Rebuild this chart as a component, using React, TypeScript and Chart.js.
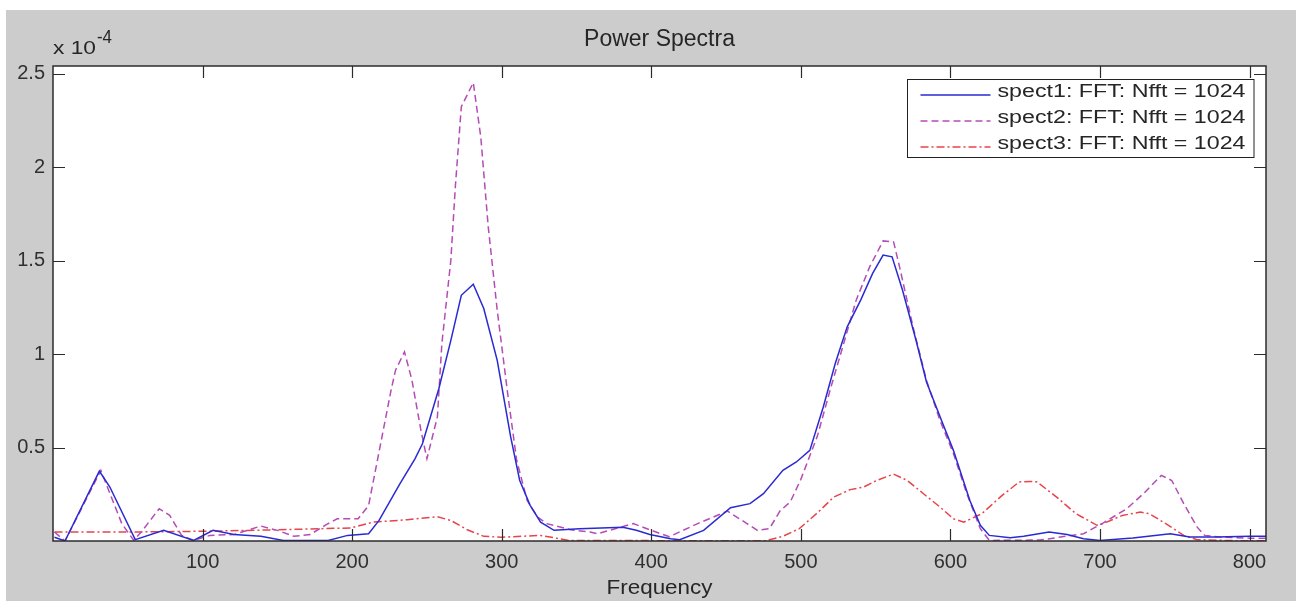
import React, { useEffect, useRef } from "react";
import { Chart, registerables } from "chart.js";

Chart.register(...registerables);

const FONT = '"Liberation Sans", Arial, Helvetica, sans-serif';

// ---- text ----
const titleText = "Power Spectra";
const xLabel = "Frequency";
const yScaleBase = "x 10";
const yScaleExp = "-4";
const seriesLabels = [
  "spect1: FFT: Nfft = 1024",
  "spect2: FFT: Nfft = 1024",
  "spect3: FFT: Nfft = 1024",
];

// ---- axes ----
const xTicks = [100, 200, 300, 400, 500, 600, 700, 800];
const yTicks = [0.5, 1, 1.5, 2, 2.5]; // in units of 1e-4
const xMin = 0;
const xMax = 811;
const yMin = 0;
const yMax = 2.542;

// ---- data (power in units of 1e-4) ----
const spect1Freq = [
  1, 8, 31, 38, 55, 74, 94, 107, 121, 139, 154, 184, 197, 211, 218, 232, 242, 247, 258, 266,
  273, 281, 288, 297, 306, 312, 319, 326, 335, 352, 381, 390, 399, 413, 419, 435, 453, 466,
  475, 488, 497, 506, 515, 523, 531, 540, 548, 555, 561, 568, 577, 584, 594, 602, 613, 620,
  626, 640, 649, 666, 678, 689, 700, 722, 747, 760, 778, 800, 811,
];
const spect1Power = [
  0.02, 0.0, 0.374, 0.289, 0.007, 0.057, 0.003, 0.057, 0.035, 0.025, 0.003, 0.003, 0.03, 0.039,
  0.11, 0.307, 0.44, 0.52, 0.816, 1.074, 1.315, 1.374, 1.244, 0.967, 0.557, 0.325, 0.191, 0.101,
  0.057, 0.066, 0.074, 0.057, 0.035, 0.012, 0.007, 0.057, 0.178, 0.2, 0.253, 0.378, 0.423, 0.485,
  0.717, 0.95, 1.146, 1.289, 1.432, 1.53, 1.521, 1.342, 1.074, 0.851, 0.646, 0.485, 0.217, 0.084,
  0.03, 0.018, 0.025, 0.048, 0.035, 0.012, 0.003, 0.016, 0.039, 0.021, 0.021, 0.026, 0.026,
];

const spect2Freq = [
  1, 8, 32, 46, 54, 59, 71, 78, 86, 94, 105, 121, 139, 150, 161, 172, 183, 190, 204, 211, 226,
  229, 235, 240, 246, 250, 257, 260, 266, 269, 273, 281, 286, 291, 297, 304, 310, 317, 324, 330,
  346, 359, 364, 388, 399, 412, 431, 451, 464, 471, 479, 486, 493, 500, 511, 520, 528, 537, 546,
  555, 562, 566, 575, 584, 593, 602, 611, 620, 626, 660, 689, 702, 718, 729, 741, 748, 756, 765,
  770, 780, 800, 811,
];
const spect2Power = [
  0.048, 0.0, 0.378, 0.093, 0.003, 0.048, 0.173, 0.137, 0.03, 0.003, 0.03, 0.035, 0.08, 0.057,
  0.025, 0.035, 0.089, 0.119, 0.119, 0.19, 0.806, 0.914, 1.012, 0.86, 0.592, 0.44, 0.664, 1.057,
  1.503, 1.896, 2.324, 2.453, 2.163, 1.681, 1.235, 0.789, 0.432, 0.217, 0.128, 0.093, 0.06, 0.048,
  0.039, 0.093, 0.06, 0.023, 0.093, 0.16, 0.093, 0.057, 0.066, 0.16, 0.21, 0.33, 0.56, 0.82,
  1.039, 1.289, 1.467, 1.606, 1.601, 1.467, 1.146, 0.86, 0.646, 0.468, 0.253, 0.066, 0.003,
  0.005, 0.039, 0.096, 0.173, 0.253, 0.351, 0.324, 0.2, 0.074, 0.03, 0.021, 0.015, 0.015,
];

const spect3Freq = [
  1, 50, 100, 150, 199, 214, 237, 257, 266, 277, 288, 300, 326, 345, 400, 477, 488, 499, 511,
  522, 533, 542, 551, 562, 571, 582, 593, 602, 609, 621, 634, 646, 653, 658, 671, 684, 698, 702,
  715, 727, 733, 744, 756, 765, 789, 811,
];
const spect3Power = [
  0.048, 0.048, 0.052, 0.06, 0.07, 0.101, 0.114, 0.13, 0.11, 0.06, 0.025, 0.02, 0.03, 0.003,
  0.002, 0.002, 0.025, 0.066, 0.15, 0.235, 0.275, 0.289, 0.325, 0.358, 0.325, 0.253, 0.182,
  0.119, 0.101, 0.146, 0.24, 0.316, 0.319, 0.316, 0.235, 0.146, 0.084, 0.093, 0.137, 0.155,
  0.146, 0.093, 0.03, 0.007, 0.002, 0.002,
];

const seriesColors = ["#2a2ad2", "#b54cb5", "#e8434a"];
const seriesDashes: number[][] = [[], [7, 4], [8, 3, 2, 3]];

const toPoints = (xs: number[], ys: number[]) => xs.map((x, i) => ({ x, y: ys[i] }));

function drawText(
  ctx: CanvasRenderingContext2D,
  text: string,
  x: number,
  y: number,
  size: number,
  align: CanvasTextAlign,
  targetWidth?: number
) {
  ctx.save();
  ctx.font = `${size}px ${FONT}`;
  const w = ctx.measureText(text).width;
  const sx = targetWidth ? targetWidth / w : 1;
  ctx.translate(x, y);
  ctx.scale(sx, 1);
  ctx.textAlign = align;
  ctx.textBaseline = "middle";
  ctx.fillStyle = "#262626";
  ctx.fillText(text, 0, 0);
  ctx.restore();
}

const decorPlugin = {
  id: "matlabDecor",
  beforeDraw(chart: any) {
    const { ctx, width, height, chartArea: a } = chart;
    ctx.save();
    ctx.fillStyle = "#ffffff";
    ctx.fillRect(0, 0, width, height);
    ctx.fillStyle = "#cccccc";
    ctx.fillRect(6, 10, width - 6, height - 10);
    ctx.fillStyle = "#ffffff";
    ctx.fillRect(a.left, a.top, a.right - a.left, a.bottom - a.top);
    ctx.restore();
  },
  afterDraw(chart: any) {
    const { ctx, chartArea: a, scales } = chart;
    const xs = scales.x;
    const ys = scales.y;
    const tick = 12;
    ctx.save();
    ctx.strokeStyle = "#2b2b2b";
    ctx.lineWidth = 1.5;
    ctx.strokeRect(a.left, a.top, a.right - a.left, a.bottom - a.top);
    ctx.lineWidth = 1.2;
    ctx.beginPath();
    xs.ticks.forEach((t: any) => {
      const px = Math.round(xs.getPixelForValue(t.value)) + 0.5;
      ctx.moveTo(px, a.bottom);
      ctx.lineTo(px, a.bottom - tick);
      ctx.moveTo(px, a.top);
      ctx.lineTo(px, a.top + tick);
    });
    ys.ticks.forEach((t: any) => {
      const py = Math.round(ys.getPixelForValue(t.value)) + 0.5;
      ctx.moveTo(a.left, py);
      ctx.lineTo(a.left + tick, py);
      ctx.moveTo(a.right, py);
      ctx.lineTo(a.right - tick, py);
    });
    ctx.stroke();
    ctx.restore();

    // texts
    drawText(ctx, titleText, (a.left + a.right) / 2, 40, 23, "center");
    drawText(ctx, xLabel, (a.left + a.right) / 2, 588, 21, "center", 106);
    drawText(ctx, yScaleBase, a.left, 48.5, 18.5, "left", 43);
    drawText(ctx, yScaleExp, a.left + 44, 38.5, 18, "left", 15);

    // legend
    const lx = 907.5;
    const ly = 79.5;
    const lw = 346.5;
    const lh = 78;
    ctx.save();
    ctx.fillStyle = "#ffffff";
    ctx.fillRect(lx, ly, lw, lh);
    ctx.strokeStyle = "#222222";
    ctx.lineWidth = 1;
    ctx.strokeRect(lx, ly, lw, lh);
    chart.data.datasets.forEach((ds: any, i: number) => {
      const rowY = ly + 15.5 + i * 26;
      ctx.save();
      ctx.strokeStyle = ds.borderColor;
      ctx.lineWidth = ds.borderWidth;
      ctx.setLineDash(ds.borderDash || []);
      ctx.beginPath();
      ctx.moveTo(lx + 13, rowY);
      ctx.lineTo(lx + 83, rowY);
      ctx.stroke();
      ctx.restore();
      drawText(ctx, ds.label, lx + 90, rowY - 2.5, 18, "left", 248);
    });
    ctx.restore();
  },
};

export default function App() {
  const canvasRef = useRef<HTMLCanvasElement | null>(null);

  useEffect(() => {
    if (!canvasRef.current) return;
    const series = [
      toPoints(spect1Freq, spect1Power),
      toPoints(spect2Freq, spect2Power),
      toPoints(spect3Freq, spect3Power),
    ];
    const chart = new Chart(canvasRef.current, {
      type: "line",
      data: {
        datasets: series.map((pts, i) => ({
          label: seriesLabels[i],
          data: pts,
          borderColor: seriesColors[i],
          borderWidth: 1.5,
          borderDash: seriesDashes[i],
          pointRadius: 0,
          tension: 0,
          fill: false,
        })),
      },
      options: {
        animation: false,
        responsive: false,
        events: [],
        layout: { padding: { top: 66, right: 30, bottom: 0, left: 0 } },
        plugins: {
          legend: { display: false },
          title: { display: false },
          tooltip: { enabled: false },
        },
        scales: {
          x: {
            type: "linear",
            min: xMin,
            max: xMax,
            grid: { display: false, drawTicks: false },
            border: { display: false },
            afterBuildTicks: (s: any) => {
              s.ticks = xTicks.map((v) => ({ value: v }));
            },
            afterFit: (s: any) => {
              s.height = 60;
            },
            ticks: {
              autoSkip: false,
              maxRotation: 0,
              padding: 9,
              color: "#303030",
              font: { family: FONT, size: 20 },
              callback: (v: any) => String(v),
            },
          },
          y: {
            type: "linear",
            min: yMin,
            max: yMax,
            grid: { display: false, drawTicks: false },
            border: { display: false },
            afterBuildTicks: (s: any) => {
              s.ticks = yTicks.map((v) => ({ value: v }));
            },
            afterFit: (s: any) => {
              s.width = 53;
            },
            ticks: {
              padding: 8,
              color: "#303030",
              font: { family: FONT, size: 20 },
              callback: (v: any) => String(v),
            },
          },
        },
      },
      plugins: [decorPlugin],
    });
    return () => chart.destroy();
  }, []);

  return (
    <div style={{ position: "fixed", left: 0, top: 0, width: 1296, height: 601 }}>
      <canvas ref={canvasRef} width={1296} height={601} style={{ display: "block" }} />
    </div>
  );
}
